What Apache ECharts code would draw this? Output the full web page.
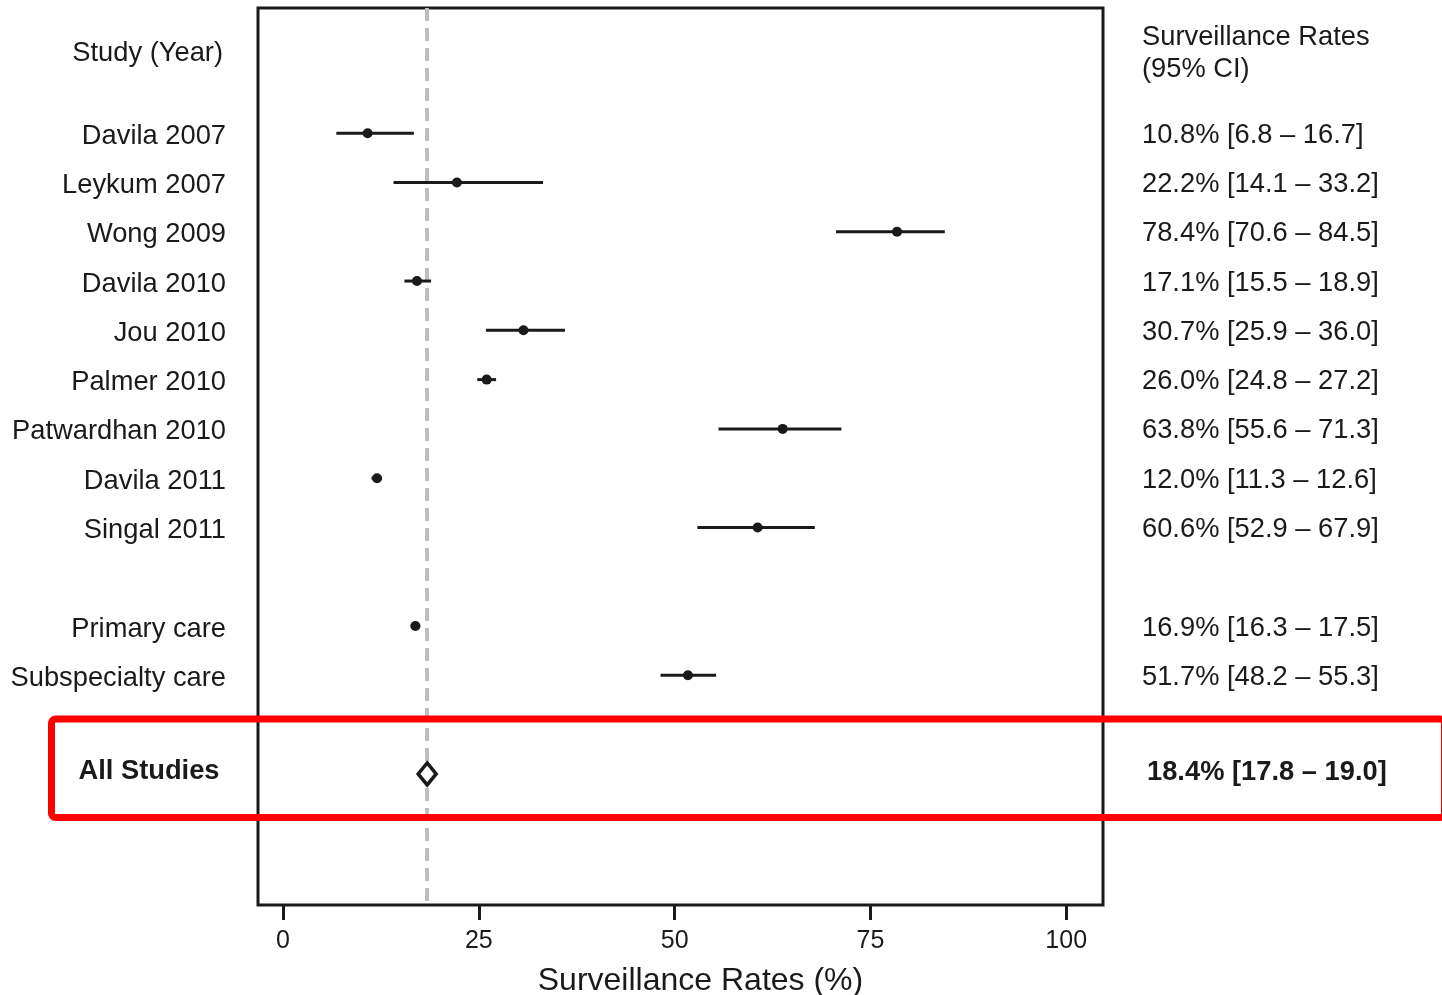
<!DOCTYPE html>
<html>
<head>
<meta charset="utf-8">
<script src="https://cdn.jsdelivr.net/npm/echarts@6/dist/echarts.min.js"></script>
<style>
  html, body { margin: 0; padding: 0; background: #fff; }
  #chart { width: 1442px; height: 995px; }
</style>
</head>
<body>
<div id="chart"></div>
<script>
// ---- data ----
const studies = ['Davila 2007', 'Leykum 2007', 'Wong 2009', 'Davila 2010', 'Jou 2010', 'Palmer 2010',
                 'Patwardhan 2010', 'Davila 2011', 'Singal 2011', 'Primary care', 'Subspecialty care'];
const estimates = [10.8, 22.2, 78.4, 17.1, 30.7, 26.0, 63.8, 12.0, 60.6, 16.9, 51.7];
const lowerCI   = [6.8, 14.1, 70.6, 15.5, 25.9, 24.8, 55.6, 11.3, 52.9, 16.3, 48.2];
const upperCI   = [16.7, 33.2, 84.5, 18.9, 36.0, 27.2, 71.3, 12.6, 67.9, 17.5, 55.3];
const rowIndex  = [0, 1, 2, 3, 4, 5, 6, 7, 8, 10, 11];

const summaryLabel = 'All Studies';
const summaryEstimate = [18.4];
const summaryLower = [17.8];
const summaryUpper = [19.0];
const summaryRow = [13];

const xTicks = [0, 25, 50, 75, 100];

// ---- styling ----
const FONT = 'Liberation Sans, Arial, Helvetica, sans-serif';
const INK = '#1a1a1a';
const FS = 27.3;

function fmt(e, l, u) {
  return e.toFixed(1) + '% [' + l.toFixed(1) + ' \u2013 ' + u.toFixed(1) + ']';
}

const studyData = studies.map((s, i) => [estimates[i], rowIndex[i], lowerCI[i], upperCI[i], i]);
const sumData = summaryEstimate.map((e, i) => [e, summaryRow[i], summaryLower[i], summaryUpper[i], i]);

const chart = echarts.init(document.getElementById('chart'), null, { renderer: 'canvas' });

const option = {
  backgroundColor: '#ffffff',
  animation: false,
  grid: {
    left: 258, right: 339, top: 8, bottom: 90,
    containLabel: false,
    outerBoundsMode: 'none',
    show: true, borderColor: INK, borderWidth: 3, backgroundColor: 'transparent'
  },
  xAxis: {
    type: 'value',
    min: -3.2, max: 104.7,
    axisLine: { show: false, onZero: false },
    splitLine: { show: false },
    axisTick: { show: true, customValues: xTicks, length: 15, lineStyle: { color: INK, width: 3 } },
    axisLabel: { customValues: xTicks, color: INK, fontFamily: FONT, fontSize: 25, margin: 24 },
    name: 'Surveillance Rates (%)',
    nameLocation: 'middle',
    nameGap: 60,
    nameTextStyle: { color: INK, fontFamily: FONT, fontSize: 32, padding: [0, 0, 0, 40] }
  },
  yAxis: {
    type: 'value',
    inverse: true,
    min: -2.54, max: 15.66,
    show: false
  },
  graphic: [
    { type: 'text', x: 223, y: 53, z: 10,
      style: { text: 'Study (Year)', fill: INK, font: FS + 'px ' + FONT, align: 'right', verticalAlign: 'middle' } },
    { type: 'text', x: 1142, y: 37, z: 10,
      style: { text: 'Surveillance Rates', fill: INK, font: FS + 'px ' + FONT, align: 'left', verticalAlign: 'middle' } },
    { type: 'text', x: 1142, y: 69, z: 10,
      style: { text: '(95% CI)', fill: INK, font: FS + 'px ' + FONT, align: 'left', verticalAlign: 'middle' } },
    { type: 'rect', z: 100,
      shape: { x: 51.5, y: 719, width: 1393, height: 98.5, r: 4 },
      style: { fill: 'none', stroke: '#ff0000', lineWidth: 7 } }
  ],
  series: [
    {
      type: 'scatter',
      data: [],
      z: 1,
      silent: true,
      markLine: {
        silent: true,
        symbol: 'none',
        label: { show: false },
        lineStyle: { color: '#bdbdbd', width: 4, type: [13, 7] },
        data: [{ xAxis: summaryEstimate[0] }]
      }
    },
    {
      type: 'custom',
      z: 5,
      clip: false,
      silent: true,
      data: studyData,
      encode: { x: [0, 2, 3], y: 1 },
      renderItem: function (params, api) {
        const e = api.value(0), r = api.value(1), l = api.value(2), u = api.value(3), idx = api.value(4);
        const p = api.coord([e, r]);
        const pl = api.coord([l, r]);
        const pu = api.coord([u, r]);
        return {
          type: 'group',
          children: [
            { type: 'line', shape: { x1: pl[0], y1: pl[1], x2: pu[0], y2: pu[1] },
              style: { stroke: INK, lineWidth: 3 } },
            { type: 'circle', shape: { cx: p[0], cy: p[1], r: 5 }, style: { fill: INK } },
            { type: 'text', x: 226, y: p[1] + 3,
              style: { text: studies[idx], fill: INK, font: FS + 'px ' + FONT, align: 'right', verticalAlign: 'middle' } },
            { type: 'text', x: 1142, y: p[1] + 2,
              style: { text: fmt(e, l, u), fill: INK, font: FS + 'px ' + FONT, align: 'left', verticalAlign: 'middle' } }
          ]
        };
      }
    },
    {
      type: 'custom',
      z: 5,
      clip: false,
      silent: true,
      data: sumData,
      encode: { x: [0, 2, 3], y: 1 },
      renderItem: function (params, api) {
        const e = api.value(0), r = api.value(1), l = api.value(2), u = api.value(3);
        const p = api.coord([e, r]);
        const hw = 9, hh = 11;
        return {
          type: 'group',
          children: [
            { type: 'polygon',
              shape: { points: [[p[0], p[1] - hh], [p[0] + hw, p[1]], [p[0], p[1] + hh], [p[0] - hw, p[1]]] },
              style: { fill: '#ffffff', stroke: INK, lineWidth: 3.5 } },
            { type: 'text', x: 149, y: p[1] - 2,
              style: { text: summaryLabel, fill: INK, font: 'bold ' + FS + 'px ' + FONT, align: 'center', verticalAlign: 'middle' } },
            { type: 'text', x: 1147, y: p[1] - 1,
              style: { text: fmt(e, l, u), fill: INK, font: 'bold ' + FS + 'px ' + FONT, align: 'left', verticalAlign: 'middle' } }
          ]
        };
      }
    }
  ]
};

chart.setOption(option);
</script>
</body>
</html>
